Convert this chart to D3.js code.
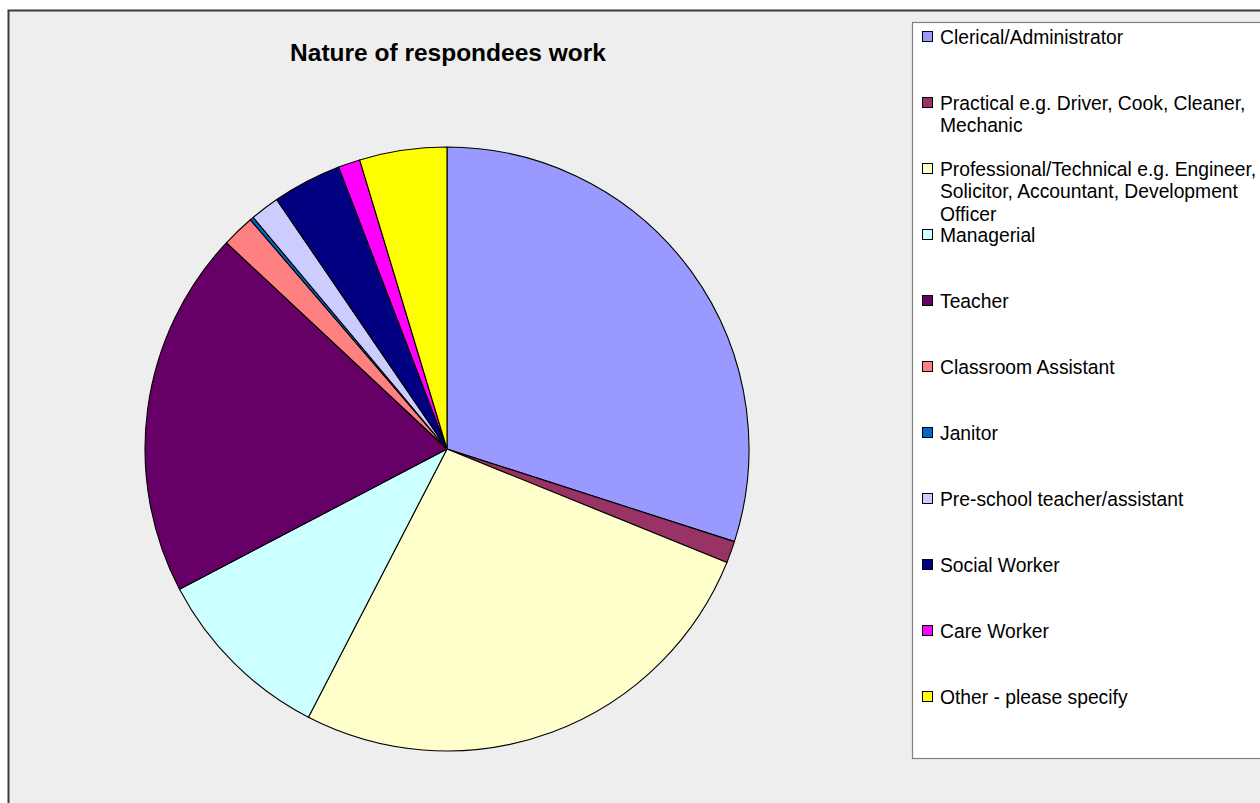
<!DOCTYPE html>
<html>
<head>
<meta charset="utf-8">
<script src="https://cdn.jsdelivr.net/npm/d3@7"></script>
<style>
  html, body { margin: 0; padding: 0; background: #ffffff; }
  svg { display: block; }
  text { font-family: "Liberation Sans", Arial, sans-serif; fill: #000; }
</style>
</head>
<body>
<svg id="chart" width="1260" height="803"></svg>
<script>
// ---- data ----
const categories = [
  "Clerical/Administrator",
  "Practical e.g. Driver, Cook, Cleaner,\nMechanic",
  "Professional/Technical e.g. Engineer,\nSolicitor, Accountant, Development\nOfficer",
  "Managerial",
  "Teacher",
  "Classroom Assistant",
  "Janitor",
  "Pre-school teacher/assistant",
  "Social Worker",
  "Care Worker",
  "Other - please specify"
];
const counts = [154, 6, 136, 50, 101, 9, 1, 8, 19, 6, 24];
const colors = ["#9999FF", "#993366", "#FFFFCC", "#CCFFFF", "#660066", "#FF8080",
                "#0066CC", "#CCCCFF", "#000080", "#FF00FF", "#FFFF00"];
const title = "Nature of respondees work";

// ---- drawing ----
const svg = d3.select("#chart");

// chart area
svg.append("rect")
  .attr("x", 8.5).attr("y", 10.5)
  .attr("width", 1300).attr("height", 850)
  .attr("fill", "#EEEEEE")
  .attr("stroke", "#3a3a3a").attr("stroke-width", 2);

svg.append("text")
  .attr("x", 448).attr("y", 61)
  .attr("text-anchor", "middle")
  .style("font-size", "24.5px").style("font-weight", "bold")
  .text(title);

const cx = 447, cy = 449, R = 302;
const data = categories.map((c, i) => ({ name: c, value: counts[i], color: colors[i] }));
const pie = d3.pie().value(d => d.value).sort(null).startAngle(0).endAngle(2 * Math.PI);
const arc = d3.arc().innerRadius(0).outerRadius(R);

svg.append("g").attr("transform", `translate(${cx},${cy})`)
  .selectAll("path").data(pie(data)).join("path")
  .attr("d", arc)
  .attr("fill", d => d.data.color)
  .attr("stroke", "#000").attr("stroke-width", 1.1)
  .attr("stroke-linejoin", "round");

// legend
const lg = svg.append("g");
lg.append("rect")
  .attr("x", 912.5).attr("y", 22.5)
  .attr("width", 400).attr("height", 736)
  .attr("fill", "#ffffff")
  .attr("stroke", "#808080").attr("stroke-width", 1.2);

const yScale = d3.scaleLinear().domain([0, categories.length - 1]).range([37, 697]);
const items = lg.selectAll("g.item").data(data).join("g")
  .attr("class", "item")
  .attr("transform", (d, i) => `translate(0,${yScale(i)})`);
items.append("rect")
  .attr("x", 922.5).attr("y", -5.5)
  .attr("width", 10).attr("height", 10)
  .attr("fill", d => d.color)
  .attr("stroke", "#000").attr("stroke-width", 1);
items.append("text")
  .attr("x", 940).attr("y", 6.8)
  .style("font-size", "19.3px")
  .selectAll("tspan").data(d => d.name.split("\n")).join("tspan")
  .attr("x", 940)
  .attr("dy", (d, i) => i === 0 ? 0 : 22.5)
  .text(d => d);
</script>
</body>
</html>
